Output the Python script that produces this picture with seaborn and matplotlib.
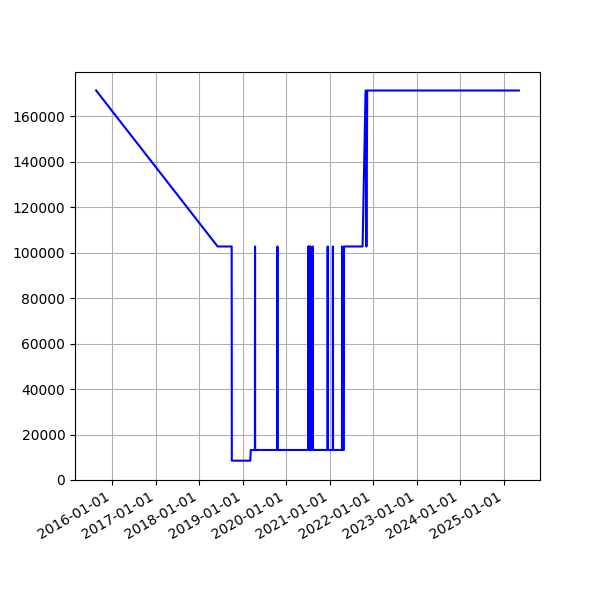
import pandas as pd
import numpy as np
import seaborn as sns
import matplotlib
matplotlib.use("Agg")
import matplotlib.pyplot as plt
import matplotlib.dates as mdates

# values
dates = [
    "2015-08-20", "2018-06-05", "2018-10-01", "2018-10-02", "2019-03-06",
    "2019-03-10", "2019-04-14", "2019-04-15", "2019-04-16", "2019-10-19",
    "2019-10-20", "2019-10-21", "2020-07-04", "2020-07-05", "2020-07-06",
    "2020-07-12", "2020-07-13", "2020-07-14", "2020-07-20", "2020-07-21",
    "2020-07-22", "2020-08-09", "2020-08-10", "2020-08-11", "2020-12-14",
    "2020-12-15", "2020-12-16", "2021-01-27", "2021-01-28", "2021-01-29",
    "2021-04-14", "2021-04-15", "2021-04-16", "2021-04-30", "2021-05-01",
    "2021-10-04", "2021-10-29", "2021-11-05", "2021-11-12", "2025-05-08",
]
valores = [
    171300, 102700, 102700, 8500, 8500,
    13200, 13200, 102700, 13200, 13200,
    102700, 13200, 13200, 102700, 13200,
    13200, 102700, 13200, 13200, 102700,
    13200, 13200, 102700, 13200, 13200,
    102700, 13200, 13200, 102700, 13200,
    13200, 102700, 13200, 13200, 102700,
    102700, 171300, 102700, 171300, 171300,
]

df = pd.DataFrame({"tarih": pd.to_datetime(dates), "deger": valores})

fig, ax = plt.subplots(figsize=(6, 6), dpi=100)
sns.lineplot(x="tarih", y="deger", data=df, color="blue", sort=False,
             estimator=None, ax=ax)
ax.set_xlabel("")
ax.set_ylabel("")
ax.set_ylim(bottom=0)
ax.xaxis.set_major_locator(mdates.YearLocator())
ax.xaxis.set_major_formatter(mdates.DateFormatter("%Y-%m-%d"))
ax.grid(True)
fig.autofmt_xdate()
plt.savefig("out.png", dpi=100)
